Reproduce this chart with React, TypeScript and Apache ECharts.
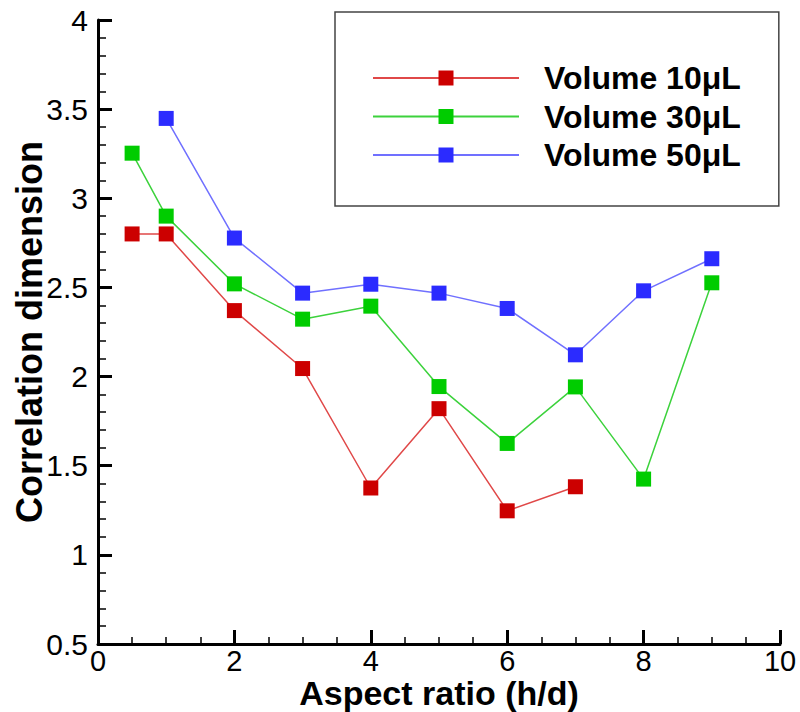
import React, { useEffect, useRef } from "react";
import * as echarts from "echarts";

const xValues10 = [0.5, 1, 2, 3, 4, 5, 6, 7];
const yValues10 = [2.8, 2.8, 2.37, 2.045, 1.375, 1.82, 1.247, 1.382];

const xValues30 = [0.5, 1, 2, 3, 4, 5, 6, 7, 8, 9];
const yValues30 = [3.253, 2.9, 2.52, 2.322, 2.395, 1.944, 1.625, 1.942, 1.425, 2.526];

const xValues50 = [1, 2, 3, 4, 5, 6, 7, 8, 9];
const yValues50 = [3.448, 2.777, 2.468, 2.518, 2.468, 2.382, 2.122, 2.481, 2.661];

const seriesNames = ["Volume 10\u03bcL", "Volume 30\u03bcL", "Volume 50\u03bcL"];
const markerColors = ["#cc0000", "#00cc00", "#2b2bff"];
const lineColors = ["#e04848", "#3cd23c", "#7070ff"];

const FONT = "'Liberation Sans', Arial, sans-serif";

export default function App() {
  const ref = useRef<HTMLDivElement>(null);
  useEffect(() => {
    if (!ref.current) return;
    const chart = echarts.init(ref.current, null, { renderer: "svg" });
    const xs = [xValues10, xValues30, xValues50];
    const ys = [yValues10, yValues30, yValues50];
    const series = seriesNames.map((name, i) => ({
      name,
      type: "line",
      data: xs[i].map((x, j) => [x, ys[i][j]]),
      symbol: "rect",
      symbolSize: 15,
      itemStyle: { color: markerColors[i] },
      lineStyle: { color: lineColors[i], width: 1.5 },
      z: 2 + i,
    }));
    chart.setOption({
      animation: false,
      backgroundColor: "#ffffff",
      textStyle: { fontFamily: FONT },
      grid: { left: 98, right: 20, top: 20, bottom: 68, containLabel: false, outerBoundsMode: "none" },
      legend: {
        left: 335,
        top: 12,
        orient: "vertical",
        backgroundColor: "#ffffff",
        borderColor: "#444444",
        borderWidth: 1.5,
        borderRadius: 0,
        padding: [50, 38, 35, 37],
        itemWidth: 146,
        itemHeight: 18.75,
        itemGap: 6.5,
        selectedMode: false,
        textStyle: {
          fontFamily: FONT,
          fontSize: 32,
          fontWeight: "bold",
          color: "#000",
          lineHeight: 32,
          padding: [0, 0, 0, 20],
        },
        data: seriesNames,
      },
      xAxis: {
        type: "value",
        min: 0,
        max: 10,
        interval: 2,
        name: "Aspect ratio (h/d)",
        nameLocation: "middle",
        nameGap: 34,
        nameMoveOverlap: false,
        nameTextStyle: { fontFamily: FONT, fontSize: 34, fontWeight: "bold", color: "#000", lineHeight: 30 },
        axisLine: { onZero: false, lineStyle: { color: "#000", width: 3 } },
        axisTick: { inside: true, length: 14, lineStyle: { color: "#000", width: 3 } },
        minorTick: { show: true, splitNumber: 4, length: 7, lineStyle: { color: "#000", width: 1.5 } },
        axisLabel: { fontFamily: FONT, fontSize: 29, color: "#000", margin: 5, lineHeight: 24 },
        splitLine: { show: false },
      },
      yAxis: {
        type: "value",
        min: 0.5,
        max: 4,
        interval: 0.5,
        name: "Correlation dimension",
        nameLocation: "middle",
        nameGap: 51,
        nameMoveOverlap: false,
        nameTextStyle: { fontFamily: FONT, fontSize: 36, fontWeight: "bold", color: "#000" },
        axisLine: { show: true, lineStyle: { color: "#000", width: 3 } },
        axisTick: { inside: true, length: 14, lineStyle: { color: "#000", width: 3 } },
        minorTick: { show: true, splitNumber: 5, length: 8, lineStyle: { color: "#000", width: 1.5 } },
        axisLabel: { fontFamily: FONT, fontSize: 30, color: "#000", margin: 10 },
        splitLine: { show: false },
      },
      series,
    });
    return () => chart.dispose();
  }, []);
  return <div ref={ref} style={{ width: 800, height: 712, position: "absolute", left: 0, top: 0 }} />;
}
